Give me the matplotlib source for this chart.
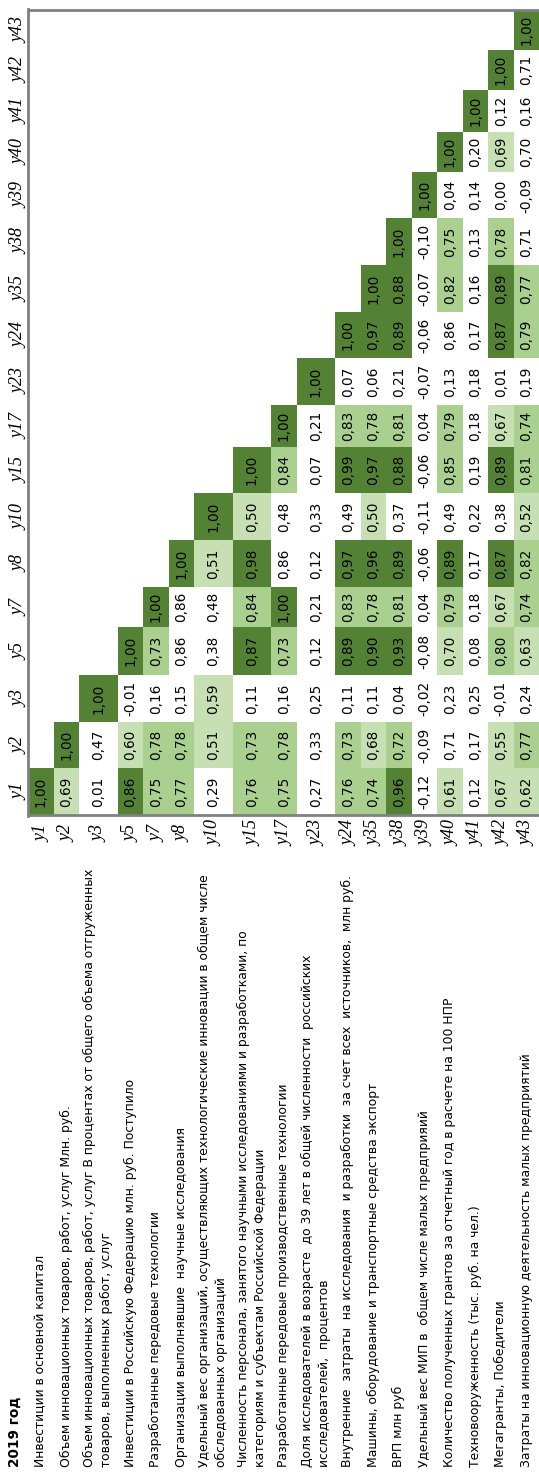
import numpy as np
import matplotlib.pyplot as plt
from matplotlib.patches import Rectangle

###############################################################################
# Data
# ----
codes = ['y1', 'y2', 'y3', 'y5', 'y7', 'y8', 'y10', 'y15', 'y17', 'y23',
         'y24', 'y35', 'y38', 'y39', 'y40', 'y41', 'y42', 'y43']

descriptions = [
    ["Инвестиции в основной капитал"],
    ["Объем инновационных товаров, работ, услуг Млн. руб."],
    ["Объем инновационных товаров, работ, услуг В процентах от общего объема отгруженных",
     "товаров, выполненных работ, услуг"],
    ["Инвестиции в Российскую Федерацию млн. руб. Поступило"],
    ["Разработанные передовые технологии"],
    ["Организации выполнявшие  научные исследования"],
    ["Удельный вес организаций, осуществляющих технологические инновации в общем числе",
     "обследованных организаций"],
    ["Численность персонала, занятого научными исследованиями и разработками, по",
     "категориям и субъектам Российской Федерации"],
    ["Разработанные передовые производственные технологии"],
    ["Доля исследователей в возрасте  до 39 лет в общей численности  российских",
     "исследователей,  процентов"],
    ["Внутренние  затраты  на исследования  и разработки  за счет всех  источников,  млн руб."],
    ["Машины, оборудование и транспортные средства экспорт"],
    ["ВРП млн руб"],
    ["Удельный вес МИП в  общем числе малых предприяий"],
    ["Количество полученных грантов за отчетный год в расчете на 100 НПР"],
    ["Техновооруженность (тыс. руб. на чел.)"],
    ["Мегагранты, Победители"],
    ["Затраты на инновационную деятельность малых предприятий"],
]

corr = [
    [1.00],
    [0.69, 1.00],
    [0.01, 0.47, 1.00],
    [0.86, 0.60, -0.01, 1.00],
    [0.75, 0.78, 0.16, 0.73, 1.00],
    [0.77, 0.78, 0.15, 0.86, 0.86, 1.00],
    [0.29, 0.51, 0.59, 0.38, 0.48, 0.51, 1.00],
    [0.76, 0.73, 0.11, 0.87, 0.84, 0.98, 0.50, 1.00],
    [0.75, 0.78, 0.16, 0.73, 1.00, 0.86, 0.48, 0.84, 1.00],
    [0.27, 0.33, 0.25, 0.12, 0.21, 0.12, 0.33, 0.07, 0.21, 1.00],
    [0.76, 0.73, 0.11, 0.89, 0.83, 0.97, 0.49, 0.99, 0.83, 0.07, 1.00],
    [0.74, 0.68, 0.11, 0.90, 0.78, 0.96, 0.50, 0.97, 0.78, 0.06, 0.97, 1.00],
    [0.96, 0.72, 0.04, 0.93, 0.81, 0.89, 0.37, 0.88, 0.81, 0.21, 0.89, 0.88, 1.00],
    [-0.12, -0.09, -0.02, -0.08, 0.04, -0.06, -0.11, -0.06, 0.04, -0.07, -0.06, -0.07, -0.10, 1.00],
    [0.61, 0.71, 0.23, 0.70, 0.79, 0.89, 0.49, 0.85, 0.79, 0.13, 0.86, 0.82, 0.75, 0.04, 1.00],
    [0.12, 0.17, 0.25, 0.08, 0.18, 0.17, 0.22, 0.19, 0.18, 0.18, 0.17, 0.16, 0.13, 0.14, 0.20, 1.00],
    [0.67, 0.55, -0.01, 0.80, 0.67, 0.87, 0.38, 0.89, 0.67, 0.01, 0.87, 0.89, 0.78, 0.00, 0.69, 0.12, 1.00],
    [0.62, 0.77, 0.24, 0.63, 0.74, 0.82, 0.52, 0.81, 0.74, 0.19, 0.79, 0.77, 0.71, -0.09, 0.70, 0.16, 0.71, 1.00],
]

# highlight class of each cell as marked in the source table (0 none .. 3 strong)
highlight = [
    "3",
    "13",
    "003",
    "3103",
    "22023",
    "220003",
    "0110013",
    "22032313",
    "220230023",
    "0000000003",
    "22032303203",
    "210323132033",
    "3203230320333",
    "00000000000003",
    "100123022002203",
    "0000000000000003",
    "11021303103320103",
    "120122122022000003",
]

title = "2019 год"

###############################################################################
# Layout (pixels of the 539x1475 picture, table is turned 90 degrees)
# -------------------------------------------------------------------
W, H = 539, 1475
x_left = 28          # left border of the matrix
y_top = 10           # top border of the matrix
y_bottom = 815       # bottom border of the matrix
desc_start = 1467    # where the description lines begin
line_step = 17

row_width = {1: 25.5, 2: 38.5}
col_height = [47, 46, 47, 48, 40, 47, 47, 46, 42, 47, 46, 47, 47, 46, 40, 42, 40, 40]

row_edges = x_left + np.concatenate([[0], np.cumsum([row_width[len(d)] for d in descriptions])])
col_edges = y_bottom - np.concatenate([[0], np.cumsum(col_height)])

fill_colors = {0: None, 1: '#C6E0B4', 2: '#A9D08E', 3: '#548235'}
border_color = '#808080'

###############################################################################
# Figure
# ------
fig = plt.figure(figsize=(W / 100, H / 100), dpi=100)
ax = fig.add_axes([0, 0, 1, 1])
ax.set_xlim(0, W)
ax.set_ylim(H, 0)
ax.axis('off')

for i, row in enumerate(corr):
    x0, x1 = row_edges[i], row_edges[i + 1]
    for j, v in enumerate(row):
        y1_, y0_ = col_edges[j], col_edges[j + 1]
        level = int(highlight[i][j])
        if fill_colors[level]:
            ax.add_patch(Rectangle((x0, y0_), x1 - x0, y1_ - y0_,
                                   facecolor=fill_colors[level], edgecolor='none', zorder=1))
        ax.text((x0 + x1) / 2, (y0_ + y1_) / 2, f"{v:.2f}".replace('.', ','),
                rotation=90, ha='center', va='center', fontsize=9.8,
                family='DejaVu Sans', color='black', zorder=3)

    # row code under the matrix
    ax.text((x0 + x1) / 2 + 1, 833, codes[i], rotation=90, ha='center', va='center',
            fontsize=13, family='Liberation Serif', style='italic', zorder=3)

    # description lines
    lines = descriptions[i]
    xc = (x0 + x1) / 2
    offsets = [0] if len(lines) == 1 else [-line_step / 2, line_step / 2]
    for off, line in zip(offsets, lines):
        ax.text(xc + off, desc_start, line, rotation=90, ha='center', va='bottom',
                fontsize=8.95, family='DejaVu Sans', color='black', zorder=3)

# column codes on the left side
for j, c in enumerate(codes):
    ax.text(19, (col_edges[j] + col_edges[j + 1]) / 2, c, rotation=90, ha='center',
            va='center', fontsize=13, family='Liberation Serif', style='italic')

ax.text(15, desc_start, title, rotation=90, ha='center', va='bottom',
        fontsize=9.8, fontweight='bold', family='DejaVu Sans')

# grey borders of the matrix
ax.plot([x_left, W], [y_top, y_top], color=border_color, lw=2, solid_capstyle='butt', zorder=4)
ax.plot([x_left, W], [y_bottom, y_bottom], color=border_color, lw=2, solid_capstyle='butt', zorder=4)
ax.plot([x_left, x_left], [y_top - 1, y_bottom + 1], color=border_color, lw=2, zorder=4)

fig.savefig('out.png', dpi=100)
